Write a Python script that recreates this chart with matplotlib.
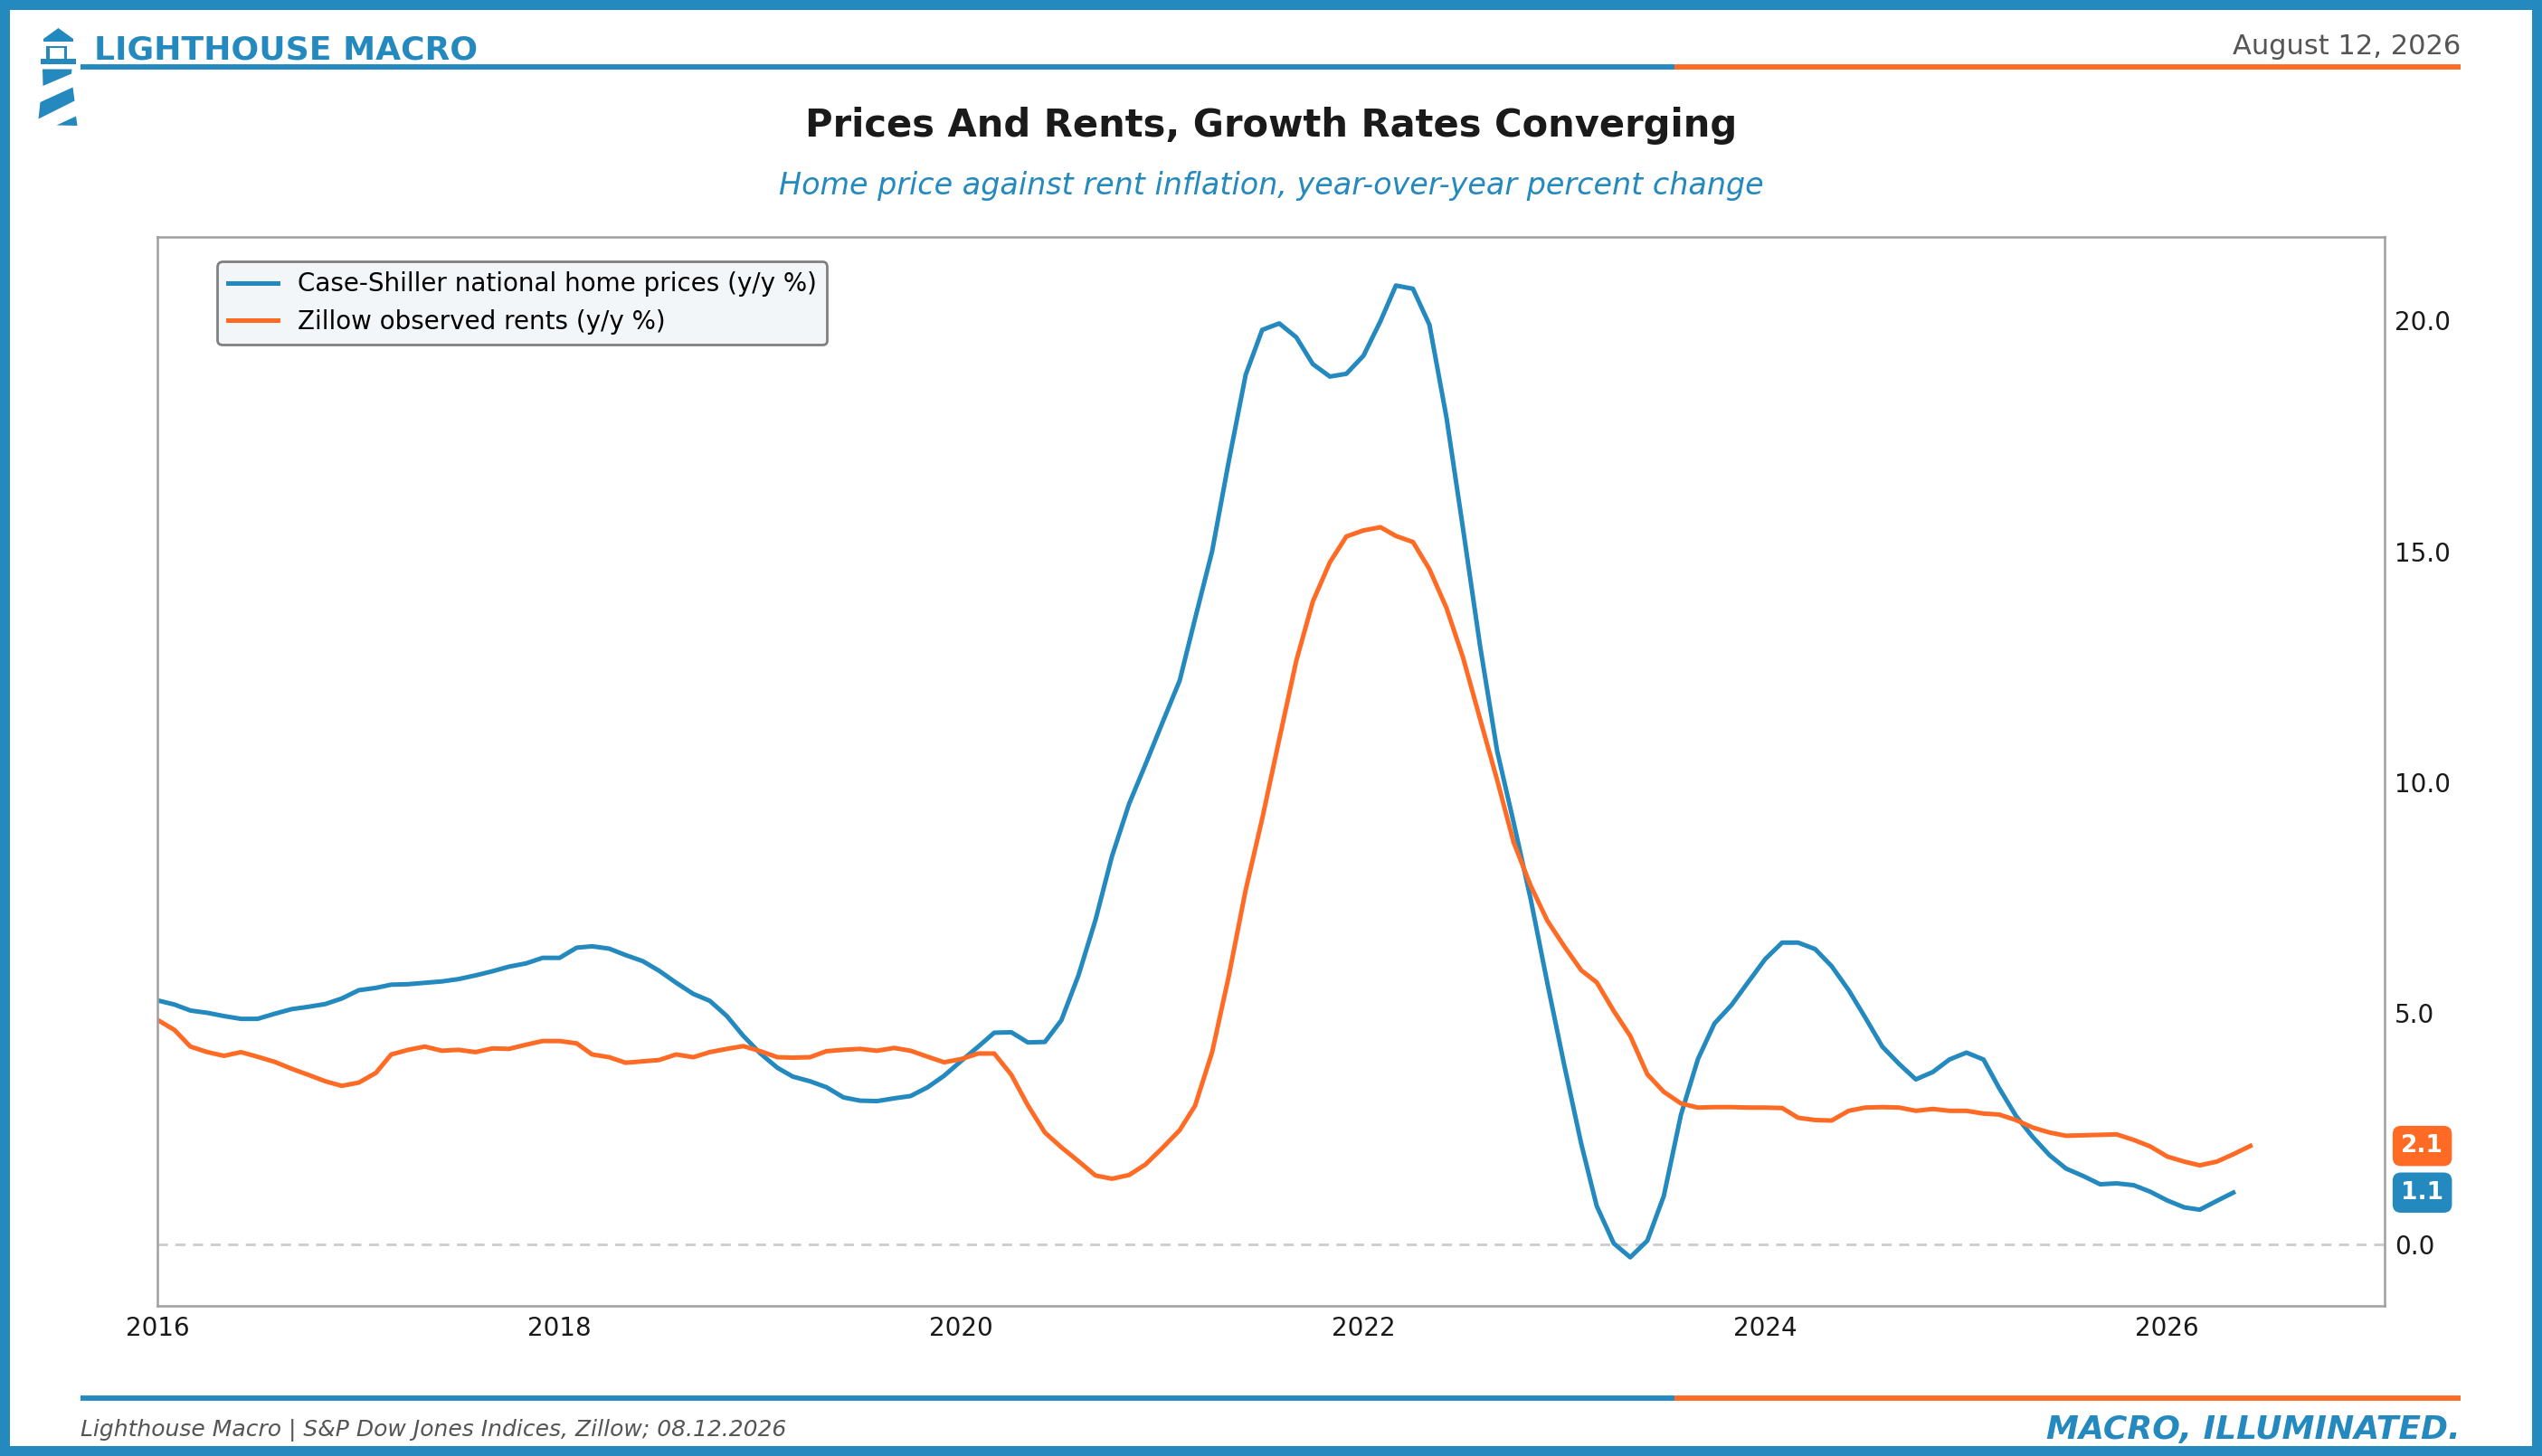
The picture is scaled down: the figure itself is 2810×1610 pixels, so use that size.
import numpy as np
import pandas as pd
import matplotlib
matplotlib.use("Agg")
import matplotlib.pyplot as plt
import matplotlib.dates as mdates
from matplotlib.patches import Rectangle, Polygon
from matplotlib.lines import Line2D

# monthly y/y %, Jan 2016 onward
home_prices = [
    5.28, 5.19, 5.06, 5.01, 4.94, 4.88, 4.88, 4.99, 5.09, 5.14, 5.20, 5.32,
    5.50, 5.55, 5.62, 5.63, 5.66, 5.69, 5.74, 5.82, 5.91, 6.01, 6.08, 6.20,
    6.20, 6.42, 6.45, 6.40, 6.26, 6.13, 5.92, 5.66, 5.42, 5.27, 4.94, 4.51,
    4.13, 3.82, 3.63, 3.53, 3.40, 3.18, 3.11, 3.10, 3.16, 3.21, 3.40, 3.65,
    3.97, 4.28, 4.58, 4.59, 4.37, 4.38, 4.85, 5.82, 7.02, 8.40, 9.53, 10.39,
    11.30, 12.20, 13.54, 15.00, 16.93, 18.82, 19.79, 19.93, 19.63, 19.05, 18.78, 18.84,
    19.23, 19.98, 20.75, 20.68, 19.90, 17.89, 15.49, 12.95, 10.68, 9.13, 7.47, 5.67,
    3.88, 2.17, 0.83, 0.02, -0.28, 0.08, 1.05, 2.80, 4.01, 4.78, 5.18, 5.67,
    6.17, 6.53, 6.53, 6.39, 6.02, 5.50, 4.91, 4.28, 3.90, 3.57, 3.73, 4.00,
    4.15, 4.00, 3.39, 2.78, 2.33, 1.93, 1.64, 1.48, 1.30, 1.32, 1.28, 1.14,
    0.95, 0.80, 0.75, 0.94, 1.12,
]
rents = [
    4.86, 4.64, 4.28, 4.16, 4.08, 4.16, 4.06, 3.95, 3.80, 3.67, 3.53, 3.43,
    3.50, 3.71, 4.11, 4.21, 4.28, 4.19, 4.21, 4.16, 4.24, 4.23, 4.32, 4.40,
    4.40, 4.35, 4.11, 4.05, 3.93, 3.96, 3.99, 4.11, 4.05, 4.16, 4.23, 4.29,
    4.18, 4.05, 4.04, 4.05, 4.18, 4.21, 4.23, 4.19, 4.25, 4.19, 4.06, 3.94,
    4.01, 4.13, 4.13, 3.67, 3.01, 2.42, 2.10, 1.80, 1.49, 1.42, 1.50, 1.73,
    2.09, 2.47, 3.00, 4.16, 5.79, 7.67, 9.21, 10.93, 12.63, 13.91, 14.76, 15.32,
    15.45, 15.52, 15.33, 15.20, 14.61, 13.77, 12.70, 11.37, 10.05, 8.70, 7.76, 7.01,
    6.45, 5.93, 5.67, 5.05, 4.51, 3.68, 3.30, 3.05, 2.96, 2.97, 2.97, 2.96,
    2.96, 2.95, 2.74, 2.69, 2.68, 2.89, 2.96, 2.97, 2.96, 2.89, 2.93, 2.89,
    2.89, 2.83, 2.81, 2.69, 2.53, 2.42, 2.35, 2.36, 2.37, 2.38, 2.26, 2.12,
    1.90, 1.79, 1.71, 1.79, 1.95, 2.13,
]
home_label = "Case-Shiller national home prices (y/y %)"
rent_label = "Zillow observed rents (y/y %)"
y_ticks = [0, 5, 10, 15, 20]

home_dates = pd.date_range("2016-01-01", periods=len(home_prices), freq="MS")
rent_dates = pd.date_range("2016-01-01", periods=len(rents), freq="MS")

BLUE = "#2389BE"
ORANGE = "#FF6B25"
W, H = 2810, 1610

fig = plt.figure(figsize=(W / 200, H / 200), dpi=200)
plt.rcParams["font.family"] = ["DejaVu Sans"]


def fx(x):
    return x / W


def fy(y):
    return 1 - y / H


# outer frame
for (x0, y0, w, h) in [(0, 0, W, 11), (0, H - 11, W, 11), (0, 0, 11, H), (W - 11, 0, 11, H)]:
    fig.add_artist(Rectangle((fx(x0), fy(y0 + h)), w / W, h / H,
                             transform=fig.transFigure, color=BLUE, lw=0, zorder=10))

# lighthouse logo
logo = [
    [(48, 43), (64.5, 31), (81, 43), (81, 46), (48, 46)],
    [(51, 51), (55, 51), (55, 66), (51, 66)],
    [(70.5, 51), (74, 51), (74, 66), (70.5, 66)],
    [(51, 51), (74, 51), (74, 53.5), (51, 53.5)],
    [(44.5, 65.5), (83.5, 65.5), (83.5, 71.5), (44.5, 71.5)],
    [(47, 76.5), (79.5, 76.5), (79, 81.5), (47.5, 95)],
    [(44.5, 113), (80.5, 96.5), (82.5, 111.5), (42.5, 131.5)],
    [(62.5, 138.5), (84, 128.5), (85.5, 139)],
]
for poly in logo:
    fig.add_artist(Polygon([(fx(a), fy(b)) for a, b in poly], closed=True,
                           transform=fig.transFigure, color=BLUE, lw=0))

# header / footer rules
for yy in (74, 1546):
    fig.add_artist(Line2D([fx(89), fx(1851)], [fy(yy), fy(yy)], transform=fig.transFigure,
                          color=BLUE, lw=2.1, solid_capstyle="butt"))
    fig.add_artist(Line2D([fx(1851), fx(2720)], [fy(yy), fy(yy)], transform=fig.transFigure,
                          color=ORANGE, lw=2.1, solid_capstyle="butt"))

fig.text(fx(104), fy(65), "LIGHTHOUSE MACRO", fontsize=13, fontweight="bold",
         color=BLUE, ha="left", va="baseline")
fig.text(fx(2720), fy(60), "August 12, 2026", fontsize=11, color="#555555",
         ha="right", va="baseline")
fig.text(0.5, fy(139), "Prices And Rents, Growth Rates Converging", fontsize=15,
         fontweight="bold", color="#1a1a1a", ha="center", va="center")
fig.text(0.5, fy(205), "Home price against rent inflation, year-over-year percent change",
         fontsize=12, style="italic", color=BLUE, ha="center", va="center")
fig.text(fx(89), fy(1588), "Lighthouse Macro | S&P Dow Jones Indices, Zillow; 08.12.2026",
         fontsize=9, style="italic", color="#555555", ha="left", va="baseline")
fig.text(fx(2720), fy(1591), "MACRO, ILLUMINATED.", fontsize=13, fontweight="bold",
         style="italic", color=BLUE, ha="right", va="baseline")

# main axes
ax = fig.add_axes([fx(174), fy(1444), (2636 - 174) / W, (1444 - 262) / H])
ax.plot(home_dates, home_prices, color=BLUE, lw=1.8, label=home_label)
ax.plot(rent_dates, rents, color=ORANGE, lw=1.8, label=rent_label)
ax.axhline(0, color="#cccccc", lw=1, ls=(0, (4, 3)), zorder=0)

ax.set_xlim(pd.Timestamp("2016-01-01"), pd.Timestamp("2027-01-31"))
ax.margins(y=0.05)
ax.xaxis.set_major_locator(mdates.YearLocator(2))
ax.xaxis.set_major_formatter(mdates.DateFormatter("%Y"))
ax.yaxis.tick_right()
ax.set_yticks(y_ticks)
ax.yaxis.set_major_formatter(matplotlib.ticker.FormatStrFormatter("%.1f"))
ax.tick_params(axis="both", length=0, labelsize=10, labelcolor="#1a1a1a", pad=4)
for s in ax.spines.values():
    s.set_color("#a0a0a0")
    s.set_linewidth(0.9)

leg = ax.legend(loc="upper left", bbox_to_anchor=(0.027, 0.977), borderaxespad=0,
                fontsize=10, frameon=True, fancybox=True)
leg.get_frame().set_facecolor("#F3F6F9")
leg.get_frame().set_edgecolor("#808080")
leg.get_frame().set_alpha(1)

# last-value tags
for vals, col in ((rents, ORANGE), (home_prices, BLUE)):
    ax.annotate(f"{vals[-1]:.1f}", xy=(1, vals[-1]), xycoords=ax.get_yaxis_transform(),
                xytext=(15, 0), textcoords="offset points", ha="center", va="center",
                fontsize=9.5, fontweight="bold", color="white",
                bbox=dict(boxstyle="round,pad=0.35", fc=col, ec="none"))

fig.savefig("out.png", dpi=200)
plt.close(fig)
